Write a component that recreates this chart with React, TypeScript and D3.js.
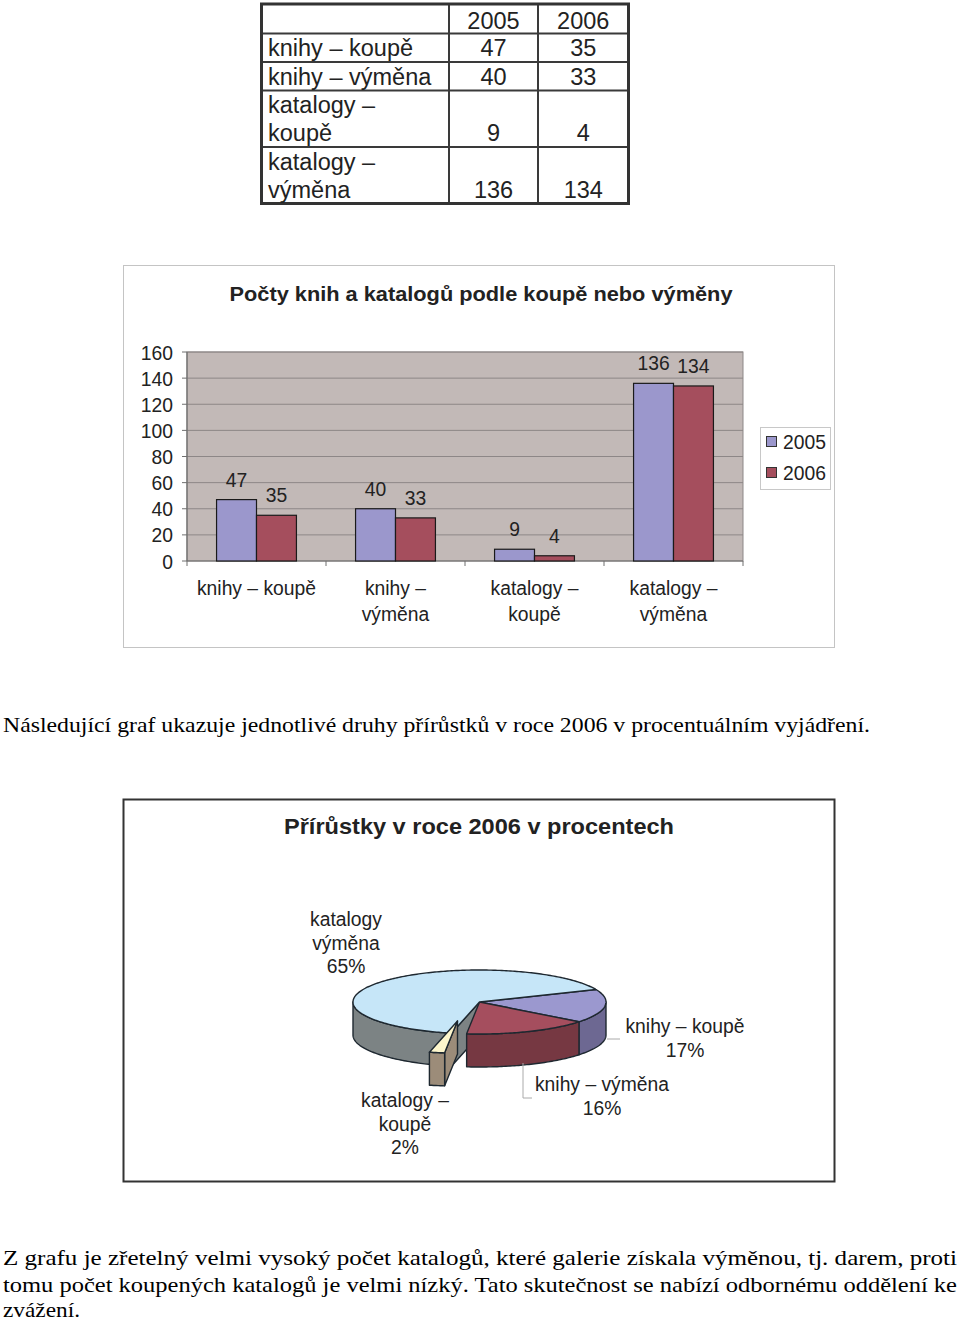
import React from 'react';
import * as d3 from 'd3';

// ---------- DATA ----------
const categories = ['knihy – koupě', 'knihy – výměna', 'katalogy – koupě', 'katalogy – výměna'];
const years = ['2005', '2006'];
const series2005 = [47, 40, 9, 136];
const series2006 = [35, 33, 4, 134];
const yTicks = [0, 20, 40, 60, 80, 100, 120, 140, 160];
const tableLabelLines = [['knihy – koupě'], ['knihy – výměna'], ['katalogy –', 'koupě'], ['katalogy –', 'výměna']];
const chartLabelLines = [['knihy – koupě'], ['knihy –', 'výměna'], ['katalogy –', 'koupě'], ['katalogy –', 'výměna']];
const pieLabelLines = [['knihy – koupě'], ['knihy – výměna'], ['katalogy –', 'koupě'], ['katalogy', 'výměna']];
const barTitle = 'Počty knih a katalogů podle koupě nebo výměny';
const pieTitle = 'Přírůstky v roce 2006 v procentech';
const paragraph1 = 'Následující graf ukazuje jednotlivé druhy přírůstků v roce 2006 v procentuálním vyjádření.';
const paragraph2 = [
  'Z grafu je zřetelný velmi vysoký počet katalogů, které galerie získala výměnou, tj. darem, proti',
  'tomu počet koupených katalogů  je velmi nízký. Tato skutečnost se nabízí odbornému oddělení ke',
  'zvážení.',
];

// ---------- STYLE / LAYOUT ----------
const SANS = "'Liberation Sans', Arial, sans-serif";
const SERIF = "'Liberation Serif', 'Times New Roman', serif";
const TXT = '#222';
const barColors = ['#9b97cc', '#a54e5d'];
const pieTop = ['#9b98cf', '#a54e5e', '#fdf6cc', '#c6e6f8'];
const pieSide = ['#6d6892', '#763842', '#9c8c79', '#7c8384'];
const PIE_STROKE = '#1e2830';
const explodedIndex = 2;
const explodeOffset = { dx: -22, dy: 19 };
const pieLabelPos = [
  { x: 685, y: 1033 },
  { x: 602, y: 1091 },
  { x: 405, y: 1107 },
  { x: 346, y: 926 },
];
const paraBaselines = [1265, 1292, 1317];

const FS = 21;
const SX = 0.92;

function CText(props: { x: number; y: number; anchor?: string; children: React.ReactNode; size?: number; weight?: string }) {
  const { x, y, anchor = 'middle', children, size = FS, weight = 'normal' } = props;
  return (
    <text
      transform={`translate(${x},${y}) scale(${SX},1)`}
      textAnchor={anchor}
      fontFamily={SANS}
      fontSize={size}
      fontWeight={weight}
      fill={TXT}
    >
      {children}
    </text>
  );
}

function Table() {
  const left = 261.5, right = 628.5, top = 4;
  const col1 = 449, col2 = 538;
  const single = 28.5, dbl = 56.5;
  const headerH = 29.5;
  const bounds: number[] = [top, top + headerH];
  tableLabelLines.forEach((ls) => bounds.push(bounds[bounds.length - 1] + (ls.length > 1 ? dbl : single)));
  const bottom = bounds[bounds.length - 1];
  const c1 = (col1 + col2) / 2, c2 = (col2 + right) / 2;
  return (
    <g>
      {bounds.slice(1, -1).map((b, i) => (
        <line key={i} x1={left} x2={right} y1={b} y2={b} stroke="#3a3a3a" strokeWidth={2} />
      ))}
      <line x1={col1} x2={col1} y1={top} y2={bottom} stroke="#3a3a3a" strokeWidth={2} />
      <line x1={col2} x2={col2} y1={top} y2={bottom} stroke="#3a3a3a" strokeWidth={2} />
      <rect x={left} y={top} width={right - left} height={bottom - top} fill="none" stroke="#333" strokeWidth={3} />
      <text x={c1} y={bounds[1] - 5} textAnchor="middle" fontFamily={SANS} fontSize={23.5} fill={TXT}>{years[0]}</text>
      <text x={c2} y={bounds[1] - 5} textAnchor="middle" fontFamily={SANS} fontSize={23.5} fill={TXT}>{years[1]}</text>
      {tableLabelLines.map((ls, i) => {
        const rb = bounds[i + 2] - 6;
        return (
          <g key={i}>
            {ls.map((l, j) => (
              <text key={j} x={268} y={rb - (ls.length - 1 - j) * 28} fontFamily={SANS} fontSize={23.5} fill={TXT}>{l}</text>
            ))}
            <text x={c1} y={rb} textAnchor="middle" fontFamily={SANS} fontSize={23.5} fill={TXT}>{series2005[i]}</text>
            <text x={c2} y={rb} textAnchor="middle" fontFamily={SANS} fontSize={23.5} fill={TXT}>{series2006[i]}</text>
          </g>
        );
      })}
    </g>
  );
}

function BarChart() {
  const x = d3.scaleBand<string>().domain(categories).range([187, 743]).paddingInner(0).paddingOuter(0);
  const xs = d3.scaleBand<string>().domain(years).range([0, x.bandwidth()]).paddingInner(0).paddingOuter(0.74);
  const y = d3.scaleLinear().domain([0, 160]).range([561, 352]);
  const series = [series2005, series2006];
  const [x0, x1] = x.range();
  return (
    <g>
      <rect x={123.5} y={265.5} width={711} height={382} fill="#fff" stroke="#c4c4c4" strokeWidth={1} />
      <text
        x={481}
        y={301}
        textAnchor="middle"
        fontFamily={SANS}
        fontSize={21}
        fontWeight="bold"
        fill={TXT}
        textLength={503}
        lengthAdjust="spacingAndGlyphs"
      >
        {barTitle}
      </text>
      <rect x={x0} y={y(160)} width={x1 - x0} height={y(0) - y(160)} fill="#c2b9b7" stroke="#8d8787" strokeWidth={1} />
      {yTicks.filter((t) => t > 0).map((t) => (
        <line key={t} x1={x0} x2={x1} y1={y(t)} y2={y(t)} stroke="#8d8787" strokeWidth={1} />
      ))}
      <line x1={x0} x2={x0} y1={y(160)} y2={y(0)} stroke="#6f6f6f" strokeWidth={1.2} />
      <line x1={x0} x2={x1} y1={y(0)} y2={y(0)} stroke="#6f6f6f" strokeWidth={1.2} />
      {yTicks.map((t) => (
        <g key={t}>
          <line x1={x0 - 5} x2={x0} y1={y(t)} y2={y(t)} stroke="#6f6f6f" strokeWidth={1} />
          <CText x={173} y={y(t) + 7.5} anchor="end">{t}</CText>
        </g>
      ))}
      {categories.map((c) => (
        <line key={c} x1={x(c)!} x2={x(c)!} y1={y(0)} y2={y(0) + 5} stroke="#6f6f6f" strokeWidth={1} />
      ))}
      <line x1={x1} x2={x1} y1={y(0)} y2={y(0) + 5} stroke="#6f6f6f" strokeWidth={1} />
      {categories.map((c, i) =>
        years.map((yr, k) => {
          const v = series[k][i];
          const bx = x(c)! + xs(yr)!;
          return (
            <g key={c + yr}>
              <rect x={bx} y={y(v)} width={xs.bandwidth()} height={y(0) - y(v)} fill={barColors[k]} stroke="#1a1a1a" strokeWidth={1.2} />
              <CText x={bx + xs.bandwidth() / 2} y={y(v) - 13}>{v}</CText>
            </g>
          );
        })
      )}
      {categories.map((c, i) => (
        <g key={'l' + c}>
          {chartLabelLines[i].map((l, j) => (
            <CText key={j} x={x(c)! + x.bandwidth() / 2} y={595 + j * 26}>{l}</CText>
          ))}
        </g>
      ))}
      <rect x={760.5} y={427.5} width={70} height={62} fill="#fff" stroke="#c8c8c8" strokeWidth={1} />
      {years.map((yr, k) => (
        <g key={yr}>
          <rect x={766.5} y={436.5 + k * 31} width={10} height={10} fill={barColors[k]} stroke="#333" strokeWidth={1} />
          <CText x={783} y={449 + k * 31} anchor="start">{yr}</CText>
        </g>
      ))}
    </g>
  );
}

function PieChart() {
  const cx = 479.5, cy = 1002, rx = 126.5, ry = 32, depth = 33;
  const start = (67 * Math.PI) / 180;
  const pieGen = d3.pie<number>().sort(null).startAngle(start).endAngle(start + 2 * Math.PI);
  const arcs = pieGen(series2006);
  const total = d3.sum(series2006);
  const noOff = { dx: 0, dy: 0 };
  const pt = (a: number, z: number, off: { dx: number; dy: number }): [number, number] => [
    cx + off.dx + rx * Math.sin(a),
    cy + off.dy - ry * Math.cos(a) + z,
  ];
  const arcPts = (a0: number, a1: number, z: number, off: { dx: number; dy: number }) => {
    const n = Math.max(2, Math.ceil((a1 - a0) / (Math.PI / 180)));
    return d3.range(n + 1).map((i) => pt(a0 + ((a1 - a0) * i) / n, z, off));
  };
  const line = d3.line();
  const closed = (pts: [number, number][]) => line(pts)! + 'Z';
  const topPath = (a0: number, a1: number, off: { dx: number; dy: number }) =>
    closed([[cx + off.dx, cy + off.dy], ...arcPts(a0, a1, 0, off)]);
  const wallPaths = (a0: number, a1: number, off: { dx: number; dy: number }) => {
    const out: string[] = [];
    [
      [Math.PI / 2, (3 * Math.PI) / 2],
      [(5 * Math.PI) / 2, (7 * Math.PI) / 2],
    ].forEach(([lo, hi]) => {
      const s = Math.max(lo, a0), e = Math.min(hi, a1);
      if (e > s) out.push(closed([...arcPts(s, e, 0, off), ...arcPts(s, e, depth, off).reverse()]));
    });
    return out;
  };
  const radialPath = (a: number, off: { dx: number; dy: number }) =>
    closed([[cx + off.dx, cy + off.dy], pt(a, 0, off), pt(a, depth, off), [cx + off.dx, cy + off.dy + depth]]);

  const n = arcs.length;
  const radials: { d: string; i: number }[] = [];
  arcs.forEach((a, i) => {
    if (i === explodedIndex) return;
    if (i === (explodedIndex + 1) % n && Math.sin(a.startAngle) < 0) radials.push({ d: radialPath(a.startAngle, noOff), i });
    if (i === (explodedIndex - 1 + n) % n && Math.sin(a.endAngle) > 0) radials.push({ d: radialPath(a.endAngle, noOff), i });
  });
  const ea = arcs[explodedIndex];
  const exRadials: string[] = [];
  if (Math.sin(ea.startAngle) < 0) exRadials.push(radialPath(ea.startAngle, explodeOffset));
  if (Math.sin(ea.endAngle) > 0) exRadials.push(radialPath(ea.endAngle, explodeOffset));

  const sp = { stroke: PIE_STROKE, strokeWidth: 1.4, strokeLinejoin: 'round' as const };

  return (
    <g>
      <rect x={123.5} y={799.5} width={711} height={382} fill="#fff" stroke="#333" strokeWidth={2} />
      <text
        x={479}
        y={834}
        textAnchor="middle"
        fontFamily={SANS}
        fontSize={22}
        fontWeight="bold"
        fill={TXT}
        textLength={390}
        lengthAdjust="spacingAndGlyphs"
      >
        {pieTitle}
      </text>
      {radials.map((r, k) => (
        <path key={'r' + k} d={r.d} fill={pieSide[r.i]} {...sp} />
      ))}
      {arcs.map((a, i) =>
        i === explodedIndex
          ? null
          : wallPaths(a.startAngle, a.endAngle, noOff).map((d, k) => <path key={'w' + i + k} d={d} fill={pieSide[i]} {...sp} />)
      )}
      {arcs.map((a, i) =>
        i === explodedIndex ? null : <path key={'t' + i} d={topPath(a.startAngle, a.endAngle, noOff)} fill={pieTop[i]} {...sp} />
      )}
      {exRadials.map((d, k) => (
        <path key={'er' + k} d={d} fill={pieSide[explodedIndex]} {...sp} />
      ))}
      {wallPaths(ea.startAngle, ea.endAngle, explodeOffset).map((d, k) => (
        <path key={'ew' + k} d={d} fill={pieSide[explodedIndex]} {...sp} />
      ))}
      <path d={topPath(ea.startAngle, ea.endAngle, explodeOffset)} fill={pieTop[explodedIndex]} {...sp} />
      {/* leader lines */}
      <polyline points="607,1039 620,1039" fill="none" stroke="#aaa" strokeWidth={1} />
      <polyline points="523,1063 523,1098 532,1098" fill="none" stroke="#aaa" strokeWidth={1} />
      {arcs.map((a, i) => {
        const lines = [...pieLabelLines[i], `${Math.round((series2006[i] / total) * 100)}%`];
        const p = pieLabelPos[i];
        return (
          <g key={'lab' + i}>
            {lines.map((l, j) => (
              <CText key={j} x={p.x} y={p.y + j * 23.5}>{l}</CText>
            ))}
          </g>
        );
      })}
    </g>
  );
}

export default function App() {
  return (
    <div style={{ position: 'absolute', left: 0, top: 0 }}>
      <svg width={960} height={1322} style={{ display: 'block', background: '#fff' }}>
        <Table />
        <BarChart />
        <text x={3} y={732} fontFamily={SERIF} fontSize={22} fill="#000" textLength={867} lengthAdjust="spacingAndGlyphs">
          {paragraph1}
        </text>
        <PieChart />
        {paragraph2.map((l, i) => (
          <text
            key={i}
            x={3}
            y={paraBaselines[i]}
            fontFamily={SERIF}
            fontSize={22}
            fill="#000"
            textLength={i < 2 ? 954 : 77}
            lengthAdjust="spacingAndGlyphs"
          >
            {l}
          </text>
        ))}
      </svg>
    </div>
  );
}
